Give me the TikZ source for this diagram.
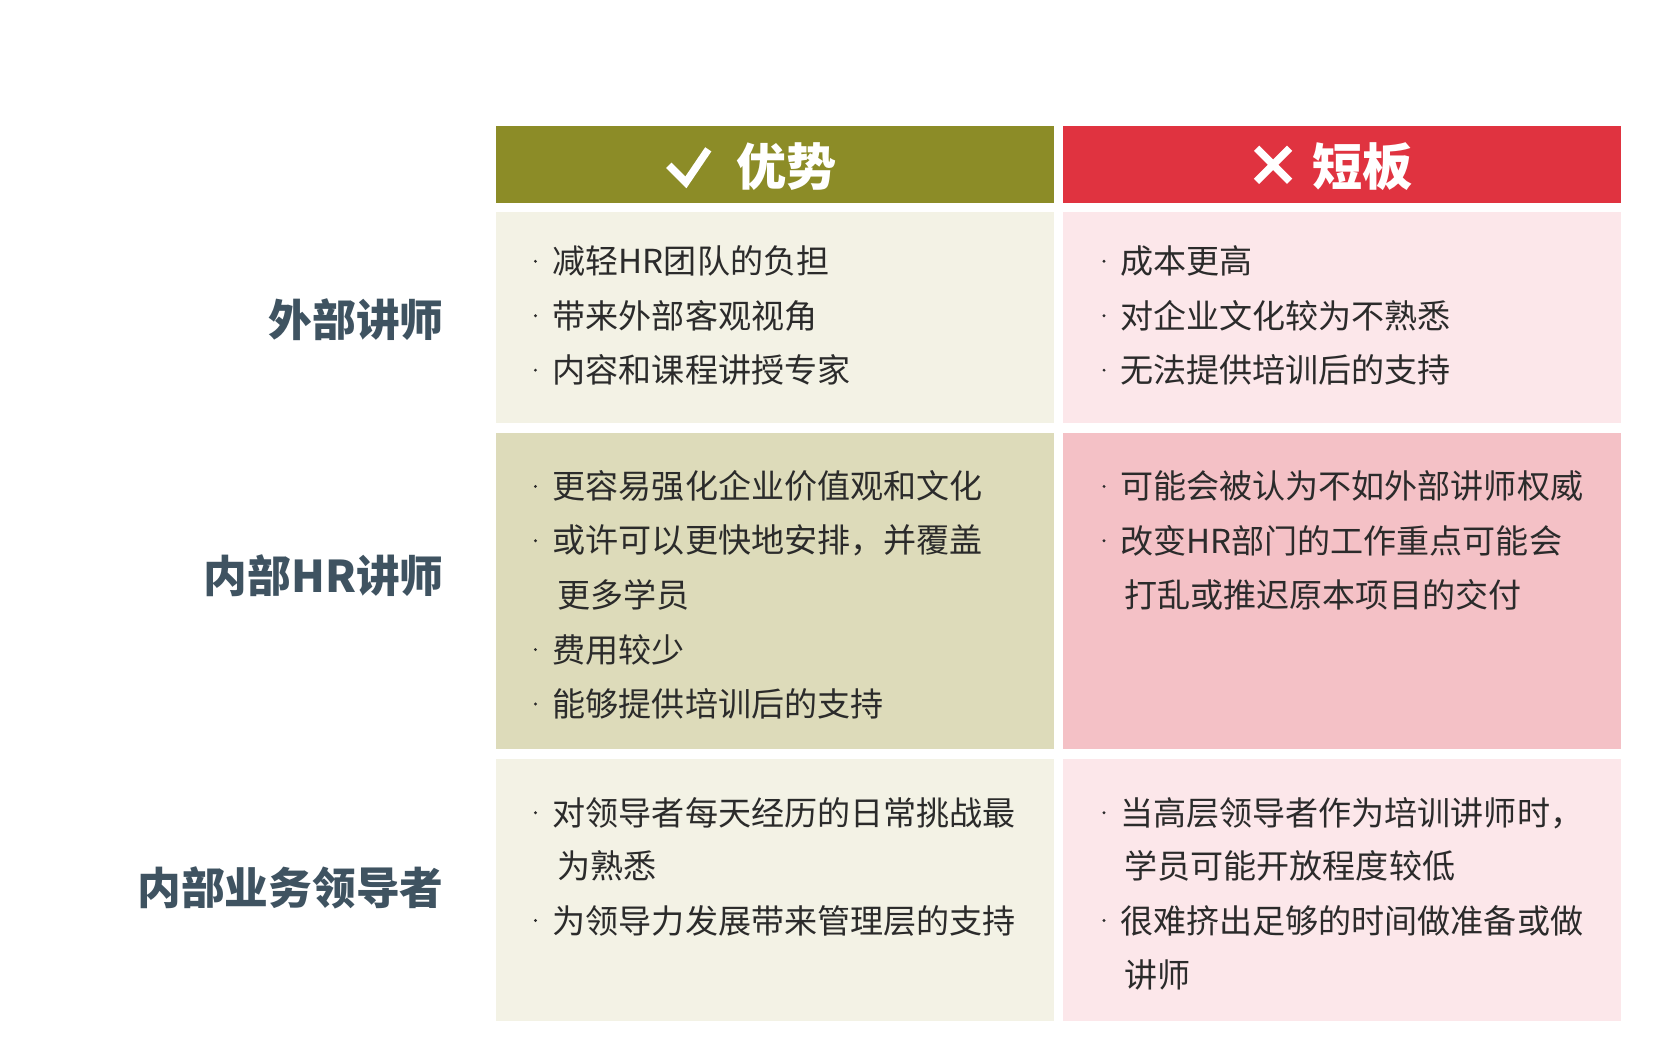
\documentclass[tikz,border=0pt]{standalone}
\usepackage{fontspec}
\setmainfont{Noto Sans CJK SC}
\newfontfamily\cjk{Noto Sans CJK SC}
\definecolor{olive}{HTML}{8C8C27}
\definecolor{redh}{HTML}{E03340}
\definecolor{lA}{HTML}{F3F2E5}
\definecolor{rA}{HTML}{FCE7EA}
\definecolor{lB}{HTML}{DDDBBA}
\definecolor{rB}{HTML}{F4C1C6}
\definecolor{lab}{HTML}{3F5361}
\definecolor{txt}{HTML}{2B2B2B}
\begin{document}
\begin{tikzpicture}[x=1pt,y=-1pt,
  itm/.style={anchor=west,inner sep=0,font=\cjk\fontsize{31}{31}\selectfont,text=txt},
  dot/.style={circle,fill=txt,inner sep=0,minimum size=3pt},
  rlab/.style={anchor=east,inner sep=0,font=\cjk\bfseries\fontsize{41}{41}\selectfont,text=lab},
  hd/.style={inner sep=0,font=\cjk\bfseries\fontsize{47}{47}\selectfont,text=white}]
\useasboundingbox (0,0) rectangle (1560,995);
\fill[olive] (465,118) rectangle (988,190);
\fill[redh] (997,118) rectangle (1520,190);
\fill[lA] (465,199) rectangle (988,397);
\fill[rA] (997,199) rectangle (1520,397);
\fill[lB] (465,406) rectangle (988,702);
\fill[rB] (997,406) rectangle (1520,702);
\fill[lA] (465,712) rectangle (988,957);
\fill[rA] (997,712) rectangle (1520,957);
\draw[white,line width=7pt] (627,155) -- (643,171) -- (664,140);
\draw[white,line width=7pt] (1178,139) -- (1209,170) (1209,139) -- (1178,170);
\node[hd,anchor=west] (h1) at (690,156) {优势};
\node[hd,anchor=west] (h2) at (1230,156) {短板};
\node[rlab] (r1) at (416,300) {外部讲师};
\node[rlab] (r2) at (416,540) {内部HR讲师};
\node[rlab] (r3) at (416,832) {内部业务领导者};
\foreach \y/\t [count=\i] in {245/减轻HR团队的负担,296/带来外部客观视角,347/内容和课程讲授专家,456/更容易强化企业价值观和文化,507/或许可以更快地安排，并覆盖,609/费用较少,660/能够提供培训后的支持,762/对领导者每天经历的日常挑战最,863/为领导力发展带来管理层的支持}
  {\node[dot] (lb\i) at (502,\y) {}; \node[itm] (lt\i) at (518,\y) {\t};}
\node[itm] (lc1) at (522,558) {更多学员};
\node[itm] (lc2) at (522,812) {为熟悉};
\foreach \y/\t [count=\i] in {245/成本更高,296/对企业文化较为不熟悉,347/无法提供培训后的支持,456/可能会被认为不如外部讲师权威,507/改变HR部门的工作重点可能会,762/当高层领导者作为培训讲师时，,863/很难挤出足够的时间做准备或做}
  {\node[dot] (rb\i) at (1035,\y) {}; \node[itm] (rt\i) at (1050,\y) {\t};}
\node[itm] (rc1) at (1054,558) {打乱或推迟原本项目的交付};
\node[itm] (rc2) at (1054,812) {学员可能开放程度较低};
\node[itm] (rc3) at (1054,914) {讲师};
\end{tikzpicture}
\end{document}
